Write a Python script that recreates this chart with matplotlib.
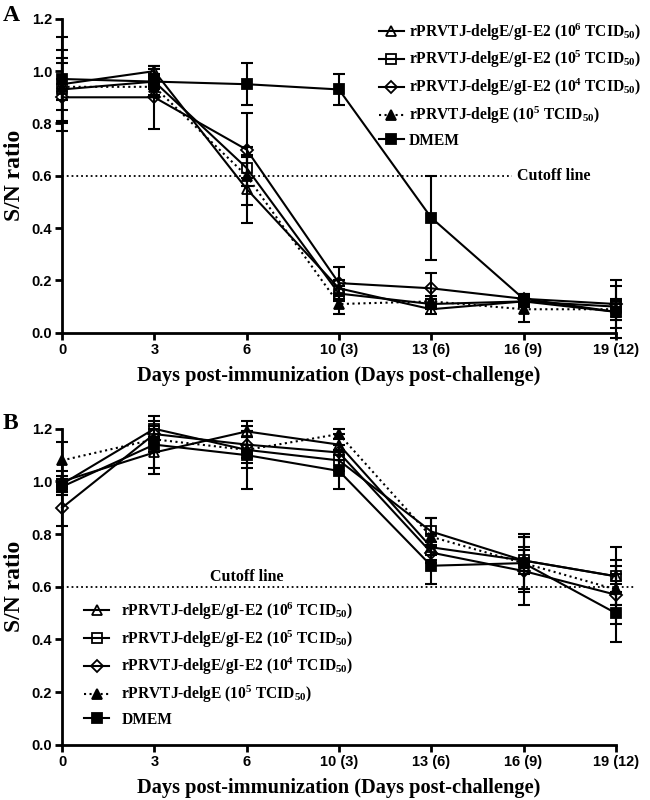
"""
Two-panel S/N ratio time course (panel A and panel B) with error bars.
"""

import matplotlib

matplotlib.use("Agg")
import matplotlib.pyplot as plt

SERIF = ["Liberation Serif", "DejaVu Serif"]
NARROW = ["Liberation Sans Narrow", "Liberation Sans", "DejaVu Sans"]

plt.rcParams["mathtext.fontset"] = "custom"
plt.rcParams["mathtext.rm"] = "Liberation Serif:bold"
plt.rcParams["mathtext.it"] = "Liberation Serif:bold"
plt.rcParams["mathtext.bf"] = "Liberation Serif:bold"

days = ["0", "3", "6", "10 (3)", "13 (6)", "16 (9)", "19 (12)"]

labels = [
    r"rPRVTJ-delgE/gI-E2 (10$^{\mathrm{6}}$ TCID$_{\mathrm{50}}$)",
    r"rPRVTJ-delgE/gI-E2 (10$^{\mathrm{5}}$ TCID$_{\mathrm{50}}$)",
    r"rPRVTJ-delgE/gI-E2 (10$^{\mathrm{4}}$ TCID$_{\mathrm{50}}$)",
    r"rPRVTJ-delgE (10$^{\mathrm{5}}$ TCID$_{\mathrm{50}}$)",
    "DMEM",
]

# panel A
a_e2_6 = [0.95, 1.00, 0.55, 0.17, 0.09, 0.12, 0.08]
a_e2_6_err = [0.10, 0.02, 0.13, 0.03, 0.02, 0.02, 0.03]
a_e2_5 = [0.93, 0.96, 0.63, 0.15, 0.11, 0.12, 0.10]
a_e2_5_err = [0.04, 0.03, 0.04, 0.03, 0.02, 0.02, 0.02]
a_e2_4 = [0.90, 0.90, 0.70, 0.19, 0.17, 0.13, 0.11]
a_e2_4_err = [0.13, 0.12, 0.14, 0.06, 0.06, 0.02, 0.09]
a_dele = [0.94, 0.94, 0.60, 0.11, 0.12, 0.09, 0.09]
a_dele_err = [0.14, 0.04, 0.11, 0.04, 0.02, 0.05, 0.04]
a_dmem = [0.97, 0.96, 0.95, 0.93, 0.44, 0.13, 0.08]
a_dmem_err = [0.16, 0.05, 0.08, 0.06, 0.16, 0.02, 0.10]

# panel B
b_e2_6 = [1.00, 1.11, 1.19, 1.14, 0.75, 0.70, 0.64]
b_e2_6_err = [0.04, 0.06, 0.02, 0.04, 0.05, 0.04, 0.11]
b_e2_5 = [0.99, 1.20, 1.12, 1.08, 0.81, 0.70, 0.64]
b_e2_5_err = [0.03, 0.03, 0.05, 0.04, 0.05, 0.05, 0.06]
b_e2_4 = [0.90, 1.18, 1.14, 1.11, 0.73, 0.66, 0.57]
b_e2_4_err = [0.07, 0.02, 0.05, 0.03, 0.04, 0.13, 0.11]
b_dele = [1.08, 1.16, 1.12, 1.18, 0.79, 0.69, 0.59]
b_dele_err = [0.07, 0.05, 0.07, 0.02, 0.07, 0.11, 0.06]
b_dmem = [0.98, 1.14, 1.10, 1.04, 0.68, 0.69, 0.50]
b_dmem_err = [0.03, 0.11, 0.13, 0.07, 0.07, 0.10, 0.11]

cutoff = 0.6

styles = [
    dict(marker="^", mfc="none", ls="-"),
    dict(marker="s", mfc="none", ls="-"),
    dict(marker="D", mfc="none", ls="-", ms=6),
    dict(marker="^", mfc="black", ls=":"),
    dict(marker="s", mfc="black", ls="-"),
]


def draw_panel(ax, series, errors):
    x = list(range(len(days)))
    for vals, errs, style, lab in zip(series, errors, styles, labels):
        ax.errorbar(
            x, vals, yerr=errs, fmt="none", ecolor="black", capsize=4.5,
            elinewidth=1.5, capthick=1.5, clip_on=False, zorder=3,
        )
        kw = dict(color="black", mec="black", ms=7, mew=1.3, lw=1.5)
        kw.update(style)
        ax.plot(x, vals, label=lab, clip_on=False, zorder=4, **kw)
    ax.set_xlim(0, len(days) - 1)
    ax.set_ylim(0, 1.2)
    ax.set_xticks(x)
    ax.set_xticklabels(days)
    ax.set_yticks([0.0, 0.2, 0.4, 0.6, 0.8, 1.0, 1.2])
    ax.set_yticklabels([f"{v:.1f}" for v in ax.get_yticks()])
    for lbl in ax.get_xticklabels() + ax.get_yticklabels():
        lbl.set_fontfamily(NARROW)
        lbl.set_fontweight("bold")
        lbl.set_fontsize(10.5)
    for side in ("top", "right"):
        ax.spines[side].set_visible(False)
    for side in ("left", "bottom"):
        ax.spines[side].set_linewidth(2)
    ax.tick_params(direction="out", length=5, width=2, pad=2)
    ax.set_ylabel("S/N ratio", fontfamily=SERIF, fontweight="bold", fontsize=17)
    ax.yaxis.set_label_coords(-0.066, 0.5)
    ax.set_xlabel(
        "Days post-immunization (Days post-challenge)",
        fontfamily=SERIF, fontweight="bold", fontsize=14.7,
    )
    ax.xaxis.set_label_coords(0.5, -0.105)


fig = plt.figure(figsize=(6.5, 8), dpi=100)
ax_a = fig.add_axes([0.0954, 0.584, 0.852, 0.3925])
ax_b = fig.add_axes([0.0954, 0.069, 0.852, 0.395])

draw_panel(
    ax_a,
    [a_e2_6, a_e2_5, a_e2_4, a_dele, a_dmem],
    [a_e2_6_err, a_e2_5_err, a_e2_4_err, a_dele_err, a_dmem_err],
)
draw_panel(
    ax_b,
    [b_e2_6, b_e2_5, b_e2_4, b_dele, b_dmem],
    [b_e2_6_err, b_e2_5_err, b_e2_4_err, b_dele_err, b_dmem_err],
)

# cutoff lines
ax_a.hlines(cutoff, 0, 4.87, colors="black", linestyles=":", lw=1.3)
ax_a.text(4.93, cutoff, "Cutoff line", va="center", ha="left",
          fontfamily=SERIF, fontweight="bold", fontsize=11.5)
ax_b.hlines(cutoff, 0, 6.2, colors="black", linestyles=":", lw=1.3,
            clip_on=False)
ax_b.text(2.0, cutoff + 0.006, "Cutoff line", va="bottom", ha="center",
          fontfamily=SERIF, fontweight="bold", fontsize=11.5)

legend_kw = dict(
    frameon=False, borderpad=0, borderaxespad=0, handlelength=1.6,
    handletextpad=0.35, labelspacing=0.42,
    prop=dict(family=SERIF, weight="bold", size=11.2),
)
leg_a = ax_a.legend(loc="upper left", bbox_to_anchor=(0.572, 0.992), **legend_kw)
legend_kw["handletextpad"] = 0.8
leg_b = ax_b.legend(loc="upper left", bbox_to_anchor=(0.040, 0.457), **legend_kw)

fig.text(0.004, 0.994, "A", fontfamily=SERIF, fontweight="bold",
         fontsize=17, va="top", ha="left")
fig.text(0.004, 0.484, "B", fontfamily=SERIF, fontweight="bold",
         fontsize=17, va="top", ha="left")

fig.savefig("out.png", dpi=100)
